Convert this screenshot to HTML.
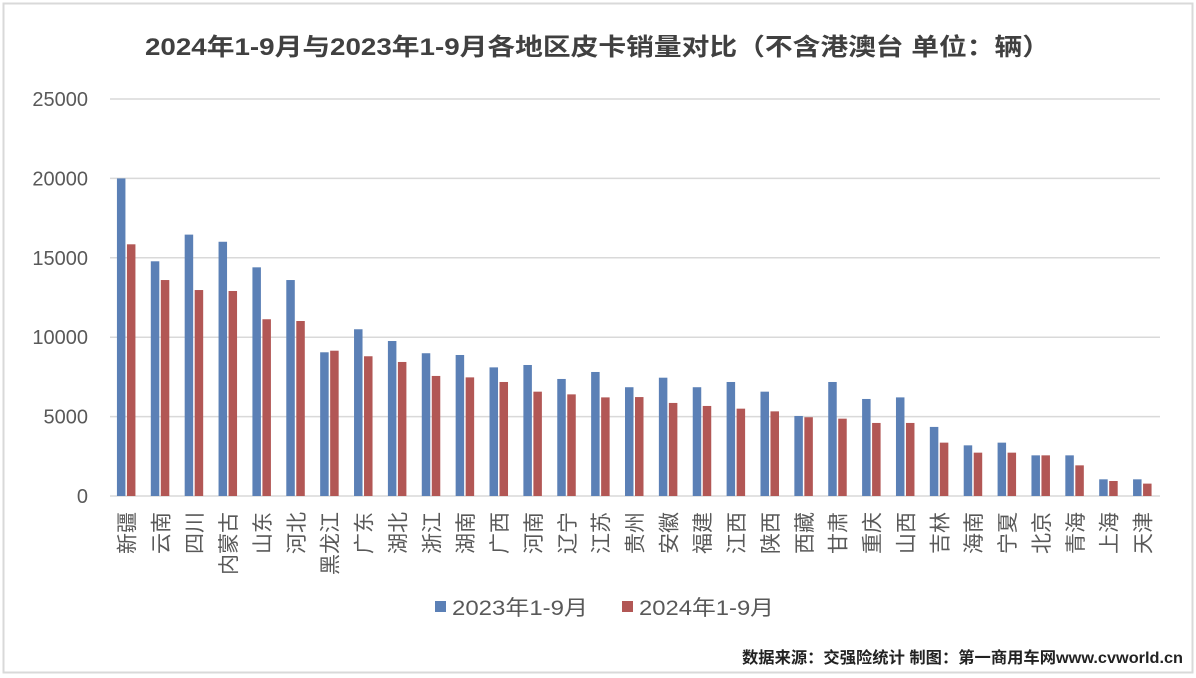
<!DOCTYPE html>
<html><head><meta charset="utf-8"><style>
body{margin:0;background:#fff}
svg{display:block}
text{font-family:"Liberation Sans","Noto Sans CJK SC",sans-serif}
</style></head><body>
<svg id="chart" width="1196" height="678" xmlns="http://www.w3.org/2000/svg">
<rect x="3.5" y="3.5" width="1189" height="669" fill="#fff" stroke="#d9d9d9" stroke-width="2"/>
<text x="145" y="55" textLength="905" lengthAdjust="spacingAndGlyphs" font-size="24" font-weight="bold" fill="#404040">2024年1-9月与2023年1-9月各地区皮卡销量对比（不含港澳台 单位：辆）</text>
<g id="grid"></g><g id="bars"></g><g id="labels"></g>
<g>
<rect x="435" y="601" width="11" height="11" fill="#5b80b6"/>
<text x="452" y="615" textLength="136" lengthAdjust="spacingAndGlyphs" font-size="21" fill="#595959">2023年1-9月</text>
<rect x="622" y="601" width="11" height="11" fill="#b25755"/>
<text x="639" y="615" textLength="135" lengthAdjust="spacingAndGlyphs" font-size="21" fill="#595959">2024年1-9月</text>
</g>
<text x="742" y="663" textLength="441" lengthAdjust="spacingAndGlyphs" font-size="16" font-weight="bold" fill="#222">数据来源：交强险统计 制图：第一商用车网www.cvworld.cn</text>
</svg>
<script>
const categories=["新疆","云南","四川","内蒙古","山东","河北","黑龙江","广东","湖北","浙江","湖南","广西","河南","辽宁","江苏","贵州","安徽","福建","江西","陕西","西藏","甘肃","重庆","山西","吉林","海南","宁夏","北京","青海","上海","天津"];
const s2023=[20000,14780,16460,16010,14400,13600,9050,10500,9760,8990,8880,8100,8250,7370,7810,6850,7450,6850,7180,6570,5040,7180,6110,6210,4350,3190,3360,2560,2560,1050,1050];
const s2024=[15850,13600,12970,12910,11130,11020,9150,8800,8440,7560,7470,7180,6570,6400,6210,6230,5860,5670,5500,5330,4960,4870,4600,4600,3360,2730,2730,2560,1930,945,780];
const ticks=[0,5000,10000,15000,20000,25000];
const NS="http://www.w3.org/2000/svg";
const x0=110,x1=1160,yB=496,yT=99,ymax=25000;
const y=v=>yB-(v/ymax)*(yB-yT);
const bw=(x1-x0)/categories.length;
const g=document.getElementById('grid'),b=document.getElementById('bars'),l=document.getElementById('labels');
function mk(tag,attrs,parent){const e=document.createElementNS(NS,tag);for(const k in attrs)e.setAttribute(k,attrs[k]);parent.appendChild(e);return e;}
ticks.forEach(t=>{
 const ln=mk('line',{x1:x0,x2:x1,y1:y(t),y2:y(t),stroke:'#d9d9d9','stroke-width':1.5},g);
 
 
 const tx=mk('text',{x:88,y:y(t)+7,'text-anchor':'end','font-size':20,fill:'#595959'},g);
 
 
 tx.textContent=t;
});
categories.forEach((c,i)=>{
 const cx=x0+bw*(i+0.5);
 const r1=mk('rect',{x:cx-10,y:y(s2023[i]),width:8.5,height:yB-y(s2023[i]),fill:'#5b80b6'},b);
 
 
 const r2=mk('rect',{x:cx,y:y(s2024[i]),width:8.5,height:yB-y(s2024[i]),fill:'#b25755'},b);
 
 
 const t=mk('text',{transform:`translate(${cx+7.5},512) rotate(-90)`,'text-anchor':'end','font-size':21,fill:'#595959'},l);
 
 
 t.textContent=c;
});
</script>
</body></html>
